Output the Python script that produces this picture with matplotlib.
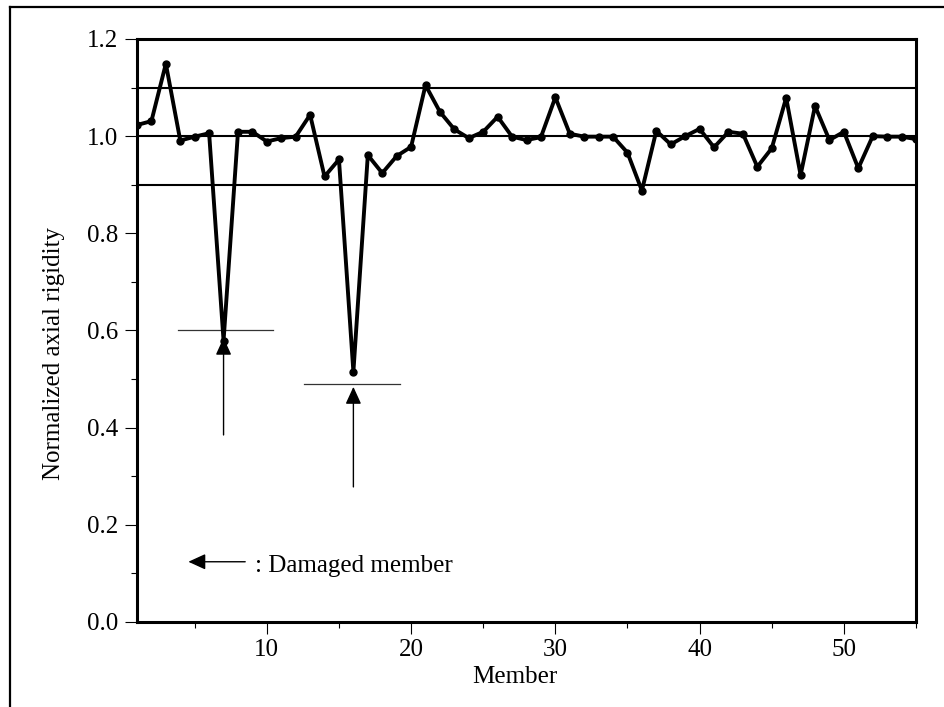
import numpy as np
import matplotlib
matplotlib.use("Agg")
import matplotlib.pyplot as plt
from matplotlib.ticker import MultipleLocator, FormatStrFormatter
from matplotlib.lines import Line2D

# Donnees
membres = np.arange(1, 56)
rigidite = [1.023, 1.031, 1.149, 0.991, 0.999, 1.006, 0.579, 1.009, 1.009, 0.989,
            0.996, 0.999, 1.044, 0.917, 0.952, 0.515, 0.961, 0.924, 0.959, 0.978,
            1.105, 1.050, 1.014, 0.996, 1.009, 1.040, 0.999, 0.992, 0.998, 1.080,
            1.005, 0.999, 0.999, 0.999, 0.966, 0.888, 1.011, 0.983, 1.000, 1.015,
            0.977, 1.009, 1.005, 0.937, 0.975, 1.079, 0.920, 1.062, 0.992, 1.009,
            0.934, 1.000, 0.999, 0.999, 0.994]
lignes_ref = [0.9, 1.0, 1.1]

# membres endommages : (membre, niveau du trait, debut trait, fin trait, pointe, queue)
endommages = [(7, 0.601, 3.85, 10.4, 0.585, 0.385),
              (16, 0.490, 12.6, 19.2, 0.484, 0.278)]

plt.rcParams['font.family'] = ['Liberation Serif', 'DejaVu Serif']
plt.rcParams['font.size'] = 18

W, H = 945, 707
fig = plt.figure(figsize=(W / 100, H / 100), dpi=100)
ax = fig.add_axes([137 / W, (H - 622) / H, 779 / W, 583 / H])

# cadre exterieur (seulement haut et gauche visibles)
fig.add_artist(Line2D([10 / W, 10 / W], [0, 1 - 7 / H], transform=fig.transFigure,
                      color='black', lw=1.6))
fig.add_artist(Line2D([10 / W, 1], [1 - 7 / H, 1 - 7 / H], transform=fig.transFigure,
                      color='black', lw=1.6))

for y in lignes_ref:
    ax.axhline(y, color='black', lw=1.5, zorder=1)

ax.plot(membres, rigidite, color='black', lw=2.8, marker='o', markersize=5, zorder=3)

for m, niv, x0, x1, pointe, queue in endommages:
    ax.plot([x0, x1], [niv, niv], color='#333333', lw=0.9, zorder=2)
    ax.annotate('', xy=(m, pointe), xytext=(m, queue),
                arrowprops=dict(arrowstyle='-|>,head_length=1.05,head_width=0.48',
                                mutation_scale=10, lw=1.0, color='black',
                                shrinkA=0, shrinkB=0))

# legende "Damaged member"
ax.annotate('', xy=(4.56, 0.124), xytext=(8.5, 0.124),
            arrowprops=dict(arrowstyle='-|>,head_length=1.05,head_width=0.48',
                            mutation_scale=10, lw=1.0, color='black',
                            shrinkA=0, shrinkB=0))
ax.text(9.2, 0.1035, ': Damaged member', ha='left', va='baseline')

ax.set_xlim(1, 55)
ax.set_ylim(0, 1.2)
ax.xaxis.set_major_locator(MultipleLocator(10))
ax.xaxis.set_minor_locator(MultipleLocator(5))
ax.yaxis.set_major_locator(MultipleLocator(0.2))
ax.yaxis.set_minor_locator(MultipleLocator(0.1))
ax.yaxis.set_major_formatter(FormatStrFormatter('%.1f'))

ax.tick_params(which='major', direction='out', length=8.5, width=0.8, pad=4)
ax.tick_params(which='minor', direction='out', length=4, width=0.8)
ax.tick_params(axis='y', which='major', pad=5)

for s in ax.spines.values():
    s.set_linewidth(2.2)

ax.set_xlabel('Member', labelpad=0)
ax.set_ylabel('Normalized axial rigidity')
ax.xaxis.set_label_coords(0.485, -0.075)
ax.yaxis.set_label_coords(-0.092, 0.46)

plt.savefig('out.png', dpi=100)
